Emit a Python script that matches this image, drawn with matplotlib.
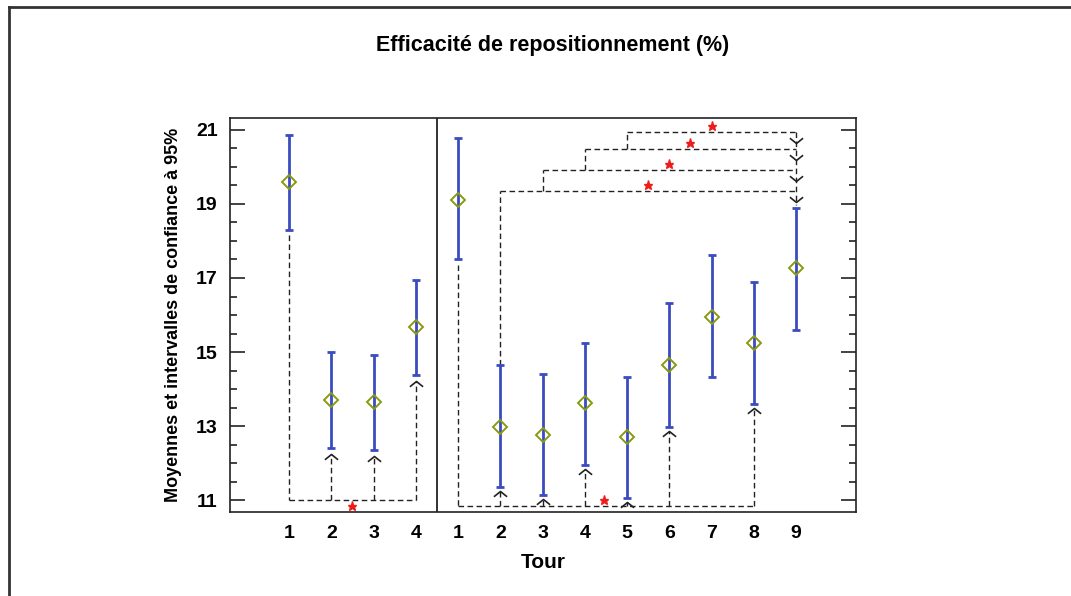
import matplotlib.pyplot as plt
from matplotlib.path import Path
from matplotlib.lines import Line2D

plt.rcParams['font.family'] = ['Liberation Sans', 'DejaVu Sans']
plt.rcParams['font.weight'] = 'bold'

# Tours, two sessions side by side
tours_a = [1, 2, 3, 4]
tours_b = [1, 2, 3, 4, 5, 6, 7, 8, 9]

# Means and 95% confidence limits
mean_a = [19.60, 13.70, 13.66, 15.68]
low_a = [18.30, 12.40, 12.35, 14.38]
high_a = [20.86, 15.01, 14.92, 16.95]

mean_b = [19.11, 12.98, 12.77, 13.63, 12.71, 14.65, 15.95, 15.24, 17.26]
low_b = [17.50, 11.36, 11.14, 11.95, 11.06, 12.98, 14.33, 13.61, 15.59]
high_b = [20.78, 14.65, 14.42, 15.25, 14.33, 16.32, 17.62, 16.90, 18.88]

# Significant comparisons
base_a = 1                      # tour 1 vs 2, 3, 4
targets_a = [2, 3, 4]
base_b = 1                      # tour 1 vs 2, 3, 4, 5, 6, 8
targets_b = [2, 3, 4, 5, 6, 8]
top_from_b = [2, 3, 4, 5]       # tours 2..5 vs 9
top_to_b = 9

tick_labels = [str(t) for t in tours_a] + [str(t) for t in tours_b]
means = mean_a + mean_b
lows = low_a + low_b
highs = high_a + high_b
xpos = list(range(len(means)))
off_b = len(tours_a)


def px(group_b, tour):
    return tour - 1 + (off_b if group_b else 0)


fig = plt.figure(figsize=(10.71, 5.96), dpi=100)
ax = fig.add_axes([0.2148, 0.1409, 0.5845, 0.6611])

err = [[m - l for m, l in zip(means, lows)], [h - m for m, h in zip(means, highs)]]
ax.errorbar(xpos, means, yerr=err, fmt='none', ecolor='#3a4cc0',
            elinewidth=2.0, capsize=3.0, capthick=2.0, zorder=3)
ax.plot(xpos, means, linestyle='none', marker='D', markersize=6.8,
        markerfacecolor='none', markeredgecolor='#8a9a10',
        markeredgewidth=1.4, zorder=4)

ax.axvline(off_b - 0.5, color='#222222', lw=1.3)

dash = dict(color='#222222', lw=1.0, linestyle=(0, (4, 2.5)), zorder=2)
up = Path([(-1, -0.8), (0, 0), (1, -0.8)], [Path.MOVETO, Path.LINETO, Path.LINETO])
down = Path([(-1, 0.8), (0, 0), (1, 0.8)], [Path.MOVETO, Path.LINETO, Path.LINETO])
head = dict(linestyle='none', markersize=9.5, markerfacecolor='none',
            markeredgecolor='#222222', markeredgewidth=1.2, zorder=5)
star = dict(marker='*', color='#ee1c1c', markersize=6.5, linestyle='none', zorder=5)

# Session 1: bottom bracket
ya = 11.0
x0 = px(False, base_a)
ax.plot([x0, x0], [low_a[base_a - 1] - 0.15, ya], **dash)
ax.plot([x0, px(False, targets_a[-1])], [ya, ya], **dash)
for t in targets_a:
    tip = low_a[t - 1] - 0.15
    ax.plot([px(False, t)] * 2, [ya, tip], **dash)
    ax.plot(px(False, t), tip, marker=up, **head)
ax.plot(1.48, 10.85, **star)

# Session 2: bottom bracket
yb = 10.84
x0 = px(True, base_b)
ax.plot([x0, x0], [low_b[base_b - 1] - 0.15, yb], **dash)
ax.plot([x0, px(True, targets_b[-1])], [yb, yb], **dash)
for t in targets_b:
    tip = low_b[t - 1] - 0.12
    ax.plot([px(True, t)] * 2, [yb, tip], **dash)
    ax.plot(px(True, t), tip, marker=up, **head)
ax.plot(7.45, 11.0, **star)

# Session 2: stacked brackets towards tour 9
levels = [19.36, 19.92, 20.49, 20.94]
star_x = [8.5, 8.98, 9.48, 10.0]
xr = px(True, top_to_b)
prev = high_b[top_from_b[0] - 1]
for t, lv, sx in zip(top_from_b, levels, star_x):
    xl = px(True, t)
    ax.plot([xl, xl], [prev, lv], **dash)
    ax.plot([xl, xr], [lv, lv], **dash)
    ax.plot(xr, lv - 0.3, marker=down, **head)
    ax.plot(sx, lv + 0.16, **star)
    prev = lv
ax.plot([xr, xr], [levels[-1], high_b[top_to_b - 1] + 0.1], **dash)

ax.set_xlim(-1.4, 13.42)
ax.set_ylim(10.68, 21.32)
ax.set_xticks(xpos)
ax.set_xticklabels(tick_labels)
ax.set_yticks([11, 13, 15, 17, 19, 21])
ax.set_yticks([v / 2 for v in range(22, 43)], minor=True)
ax.tick_params(axis='x', length=0, pad=9, labelsize=14)
ax.tick_params(axis='y', which='both', direction='in', right=True,
               labelsize=14, pad=9, color='#222222', width=1.2)
ax.tick_params(axis='y', which='major', length=11)
ax.tick_params(axis='y', which='minor', length=5)
for s in ax.spines.values():
    s.set_linewidth(1.2)
    s.set_color('#222222')

ax.set_ylabel('Moyennes et intervalles de confiance à 95%', fontsize=13,
              fontweight='bold')
ax.yaxis.set_label_coords(-0.077, 0.5)
ax.set_xlabel('Tour', fontsize=15, fontweight='bold')
ax.xaxis.set_label_coords(0.5, -0.105)

fig.text(553 / 1071, 1 - 45 / 596, 'Efficacité de repositionnement (%)',
         ha='center', va='center', fontsize=15.5, fontweight='bold')

# Outer frame on the left and top edges
fig.add_artist(Line2D([9 / 1071, 9 / 1071], [0, 1 - 7 / 596],
                      transform=fig.transFigure, color='#333333', lw=2))
fig.add_artist(Line2D([9 / 1071, 1], [1 - 7 / 596, 1 - 7 / 596],
                      transform=fig.transFigure, color='#333333', lw=2))

fig.savefig('out.png', dpi=100)
